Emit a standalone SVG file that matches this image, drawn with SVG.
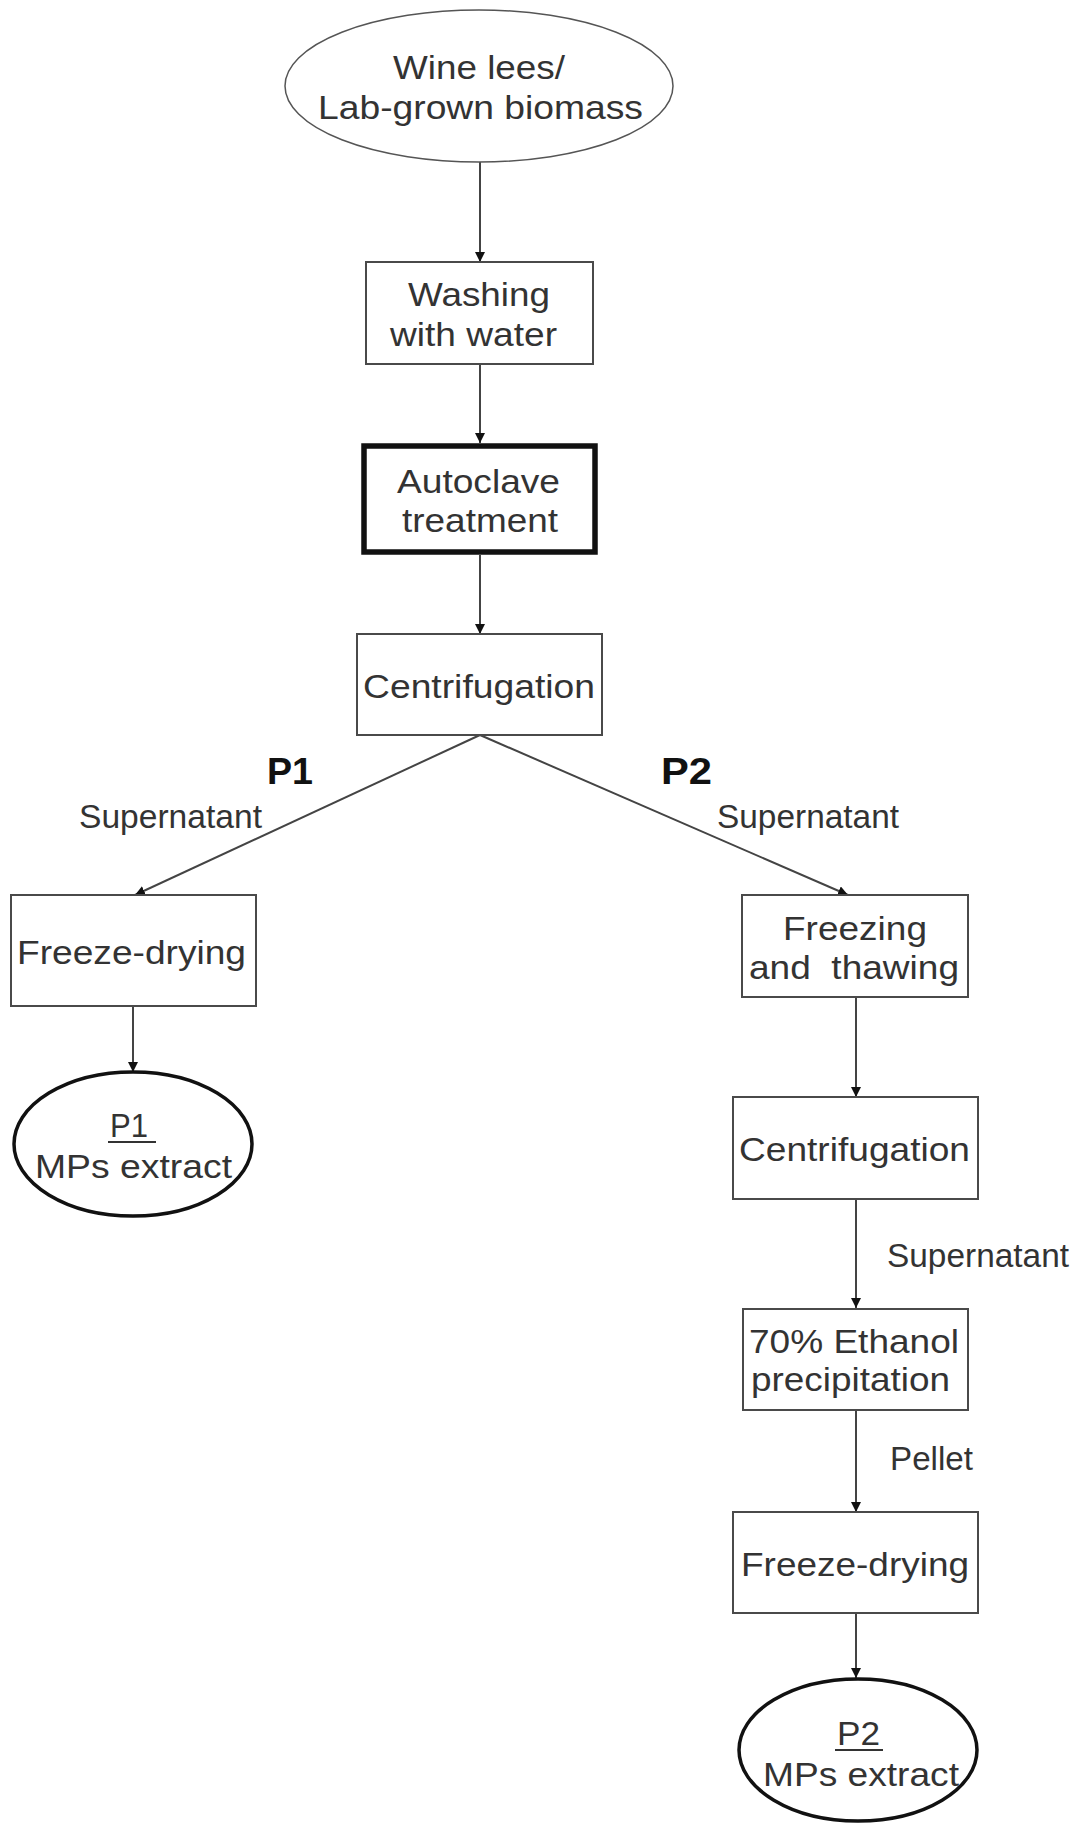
<svg xmlns="http://www.w3.org/2000/svg" width="1078" height="1823" viewBox="0 0 1078 1823">
<style>
.t{font-family:"Liberation Sans",Arial,sans-serif;font-size:33px;fill:#333;}
.b{font-family:"Liberation Sans",Arial,sans-serif;font-size:37px;font-weight:bold;fill:#111;}
.box{fill:#fff;stroke:#4a4a4a;stroke-width:2;}
.thick{fill:#fff;stroke:#111;stroke-width:5.5;}
.ov{fill:#fff;stroke:#555;stroke-width:1.5;}
.ovb{fill:#fff;stroke:#111;stroke-width:3.5;}
.c{stroke:#444;stroke-width:2;fill:none;marker-end:url(#ah);}
</style>
<defs>
<marker id="ah" markerUnits="userSpaceOnUse" markerWidth="12" markerHeight="12" refX="10" refY="5" orient="auto">
<path d="M0,0 L10,5 L0,10 z" fill="#111"/>
</marker>
</defs>
<rect width="1078" height="1823" fill="#fff"/>
<g id="connectors">
<line class="c" x1="480" y1="162" x2="480" y2="262"/>
<line class="c" x1="480" y1="364" x2="480" y2="443"/>
<line class="c" x1="480" y1="555" x2="480" y2="634"/>
<line class="c" x1="480" y1="735" x2="135" y2="895"/>
<line class="c" x1="480" y1="735" x2="848" y2="895"/>
<line class="c" x1="133" y1="1006" x2="133" y2="1072"/>
<line class="c" x1="856" y1="997" x2="856" y2="1097"/>
<line class="c" x1="856" y1="1199" x2="856" y2="1308"/>
<line class="c" x1="856" y1="1410" x2="856" y2="1512"/>
<line class="c" x1="856" y1="1613" x2="856" y2="1678"/>
<text class="b" x="267" y="784" textLength="46" lengthAdjust="spacingAndGlyphs">P1</text>
<text class="b" x="661" y="784" textLength="51" lengthAdjust="spacingAndGlyphs">P2</text>
<text class="t" x="79" y="828" textLength="183" lengthAdjust="spacingAndGlyphs">Supernatant</text>
<text class="t" x="717" y="828" textLength="182" lengthAdjust="spacingAndGlyphs">Supernatant</text>
<text class="t" x="887" y="1267" textLength="182" lengthAdjust="spacingAndGlyphs">Supernatant</text>
<text class="t" x="890" y="1470" textLength="83" lengthAdjust="spacingAndGlyphs">Pellet</text>
</g>
<g id="n-source">
<ellipse class="ov" cx="479" cy="86" rx="194" ry="76"/>
<text class="t" x="393" y="79" textLength="172" lengthAdjust="spacingAndGlyphs">Wine lees/</text>
<text class="t" x="318" y="119" textLength="325" lengthAdjust="spacingAndGlyphs">Lab-grown biomass</text>
</g>
<g id="n-washing">
<rect class="box" x="366" y="262" width="227" height="102"/>
<text class="t" x="408" y="306" textLength="142" lengthAdjust="spacingAndGlyphs">Washing</text>
<text class="t" x="390" y="346" textLength="167" lengthAdjust="spacingAndGlyphs">with water</text>
</g>
<g id="n-autoclave">
<rect class="thick" x="364" y="446" width="231" height="106"/>
<text class="t" x="397" y="493" textLength="163" lengthAdjust="spacingAndGlyphs">Autoclave</text>
<text class="t" x="402" y="532" textLength="156" lengthAdjust="spacingAndGlyphs">treatment</text>
</g>
<g id="n-centrifugation1">
<rect class="box" x="357" y="634" width="245" height="101"/>
<text class="t" x="363" y="698" textLength="232" lengthAdjust="spacingAndGlyphs">Centrifugation</text>
</g>
<g id="n-freezedrying1">
<rect class="box" x="11" y="895" width="245" height="111"/>
<text class="t" x="17" y="964" textLength="229" lengthAdjust="spacingAndGlyphs">Freeze-drying</text>
</g>
<g id="n-p1">
<ellipse class="ovb" cx="133" cy="1144" rx="119" ry="72"/>
<text class="t" x="110" y="1137" textLength="38" lengthAdjust="spacingAndGlyphs">P1</text>
<line x1="108" y1="1142" x2="156" y2="1142" stroke="#333" stroke-width="2"/>
<text class="t" x="35" y="1178" textLength="197" lengthAdjust="spacingAndGlyphs">MPs extract</text>
</g>
<g id="n-freezing">
<rect class="box" x="742" y="895" width="226" height="102"/>
<text class="t" x="783" y="940" textLength="144" lengthAdjust="spacingAndGlyphs">Freezing</text>
<text class="t" x="749" y="979" textLength="210" lengthAdjust="spacingAndGlyphs" xml:space="preserve">and  thawing</text>
</g>
<g id="n-centrifugation2">
<rect class="box" x="733" y="1097" width="245" height="102"/>
<text class="t" x="739" y="1161" textLength="231" lengthAdjust="spacingAndGlyphs">Centrifugation</text>
</g>
<g id="n-ethanol">
<rect class="box" x="743" y="1309" width="225" height="101"/>
<text class="t" x="749" y="1353" textLength="210" lengthAdjust="spacingAndGlyphs">70% Ethanol</text>
<text class="t" x="751" y="1391" textLength="199" lengthAdjust="spacingAndGlyphs">precipitation</text>
</g>
<g id="n-freezedrying2">
<rect class="box" x="733" y="1512" width="245" height="101"/>
<text class="t" x="741" y="1576" textLength="228" lengthAdjust="spacingAndGlyphs">Freeze-drying</text>
</g>
<g id="n-p2">
<ellipse class="ovb" cx="858" cy="1750" rx="119" ry="71"/>
<text class="t" x="837" y="1745" textLength="43" lengthAdjust="spacingAndGlyphs">P2</text>
<line x1="835" y1="1750" x2="883" y2="1750" stroke="#333" stroke-width="2"/>
<text class="t" x="763" y="1786" textLength="196" lengthAdjust="spacingAndGlyphs">MPs extract</text>
</g>
</svg>
